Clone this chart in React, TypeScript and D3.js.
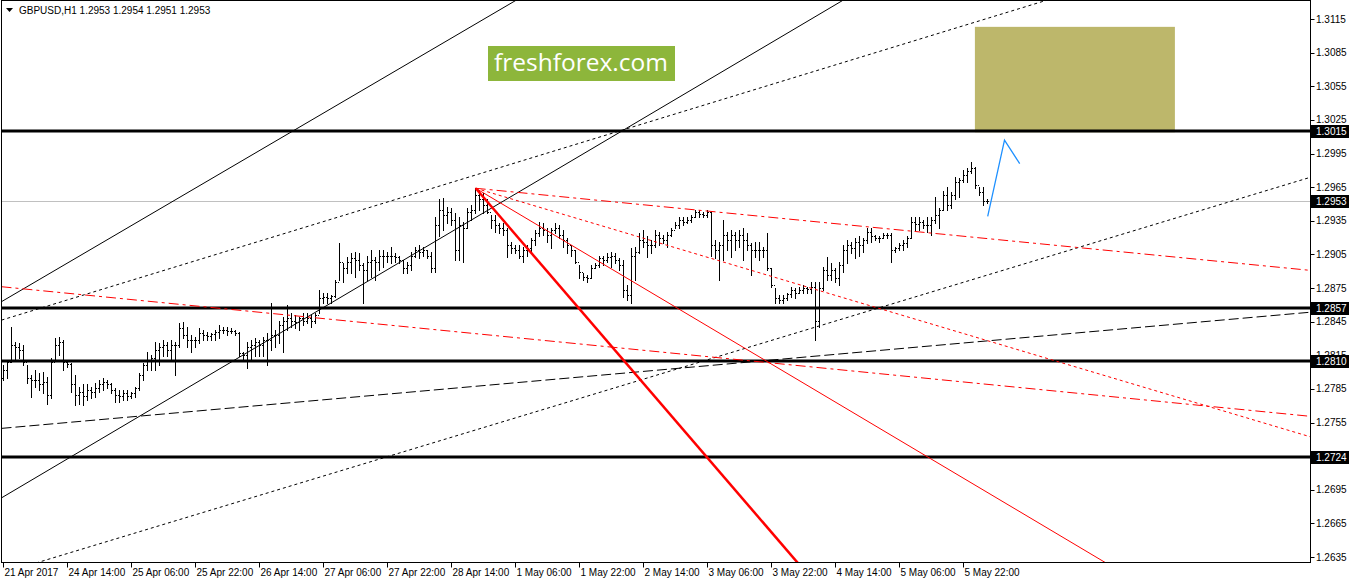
import React from 'react';
import * as d3 from 'd3';

// GBPUSD H1, one value per bar (21 Apr 23:00 .. 6 May 00:00 server time)
const HIGH = [
  1.2806, 1.2811, 1.2840, 1.2827, 1.2826, 1.2824, 1.2806, 1.2797, 1.2802, 1.2799,
  1.2800, 1.2796, 1.2813, 1.2830, 1.2831, 1.2829, 1.2811, 1.2808, 1.2797, 1.2787,
  1.2789, 1.2789, 1.2787, 1.2790, 1.2793, 1.2795, 1.2793, 1.2790, 1.2786, 1.2784,
  1.2784, 1.2784, 1.2782, 1.2787, 1.2799, 1.2808, 1.2818, 1.2815, 1.2827, 1.2826,
  1.2829, 1.2827, 1.2829, 1.2827, 1.2844, 1.2845, 1.2840, 1.2833, 1.2831, 1.2839,
  1.2838, 1.2836, 1.2835, 1.2838, 1.2842, 1.2840, 1.2840, 1.2839, 1.2838, 1.2836,
  1.2818, 1.2827, 1.2829, 1.2830, 1.2829, 1.2831, 1.2835, 1.2862, 1.2838, 1.2846,
  1.2849, 1.2860, 1.2853, 1.2851, 1.2849, 1.2853, 1.2853, 1.2851, 1.2853, 1.2873,
  1.2871, 1.2871, 1.2869, 1.2882, 1.2915, 1.2897, 1.2903, 1.2906, 1.2907, 1.2906,
  1.2897, 1.2904, 1.2909, 1.2903, 1.2909, 1.2909, 1.2907, 1.2912, 1.2906, 1.2904,
  1.2900, 1.2898, 1.2907, 1.2912, 1.2913, 1.2912, 1.2909, 1.2907, 1.2938, 1.2954,
  1.2955, 1.2947, 1.2946, 1.2942, 1.2938, 1.2934, 1.2946, 1.2949, 1.2964, 1.2962,
  1.2960, 1.2954, 1.2940, 1.2940, 1.2933, 1.2933, 1.2929, 1.2916, 1.2913, 1.2913,
  1.2912, 1.2913, 1.2920, 1.2927, 1.2934, 1.2933, 1.2929, 1.2929, 1.2933, 1.2931,
  1.2927, 1.2920, 1.2913, 1.2909, 1.2896, 1.2888, 1.2887, 1.2896, 1.2897, 1.2904,
  1.2904, 1.2906, 1.2907, 1.2906, 1.2902, 1.2900, 1.2878, 1.2911, 1.2912, 1.2924,
  1.2927, 1.2921, 1.2918, 1.2927, 1.2925, 1.2922, 1.2925, 1.2929, 1.2934, 1.2938,
  1.2938, 1.2938, 1.2940, 1.2945, 1.2945, 1.2943, 1.2945, 1.2943, 1.2918, 1.2916,
  1.2936, 1.2925, 1.2927, 1.2925, 1.2927, 1.2929, 1.2924, 1.2915, 1.2916, 1.2916,
  1.2912, 1.2924, 1.2893, 1.2875, 1.2869, 1.2869, 1.2871, 1.2876, 1.2875, 1.2876,
  1.2878, 1.2876, 1.2880, 1.2880, 1.2880, 1.2894, 1.2903, 1.2897, 1.2893, 1.2898,
  1.2913, 1.2918, 1.2916, 1.2920, 1.2921, 1.2920, 1.2929, 1.2929, 1.2922, 1.2921,
  1.2924, 1.2924, 1.2924, 1.2912, 1.2915, 1.2918, 1.2921, 1.2938, 1.2938, 1.2938,
  1.2936, 1.2938, 1.2938, 1.2956, 1.2946, 1.2962, 1.2965, 1.2961, 1.2974, 1.2973,
  1.2980, 1.2982, 1.2987, 1.2983, 1.2965, 1.2965, 1.2954,
];

const LOW = [
  1.2793, 1.2795, 1.2809, 1.2811, 1.2813, 1.2806, 1.2790, 1.2778, 1.2787, 1.2784,
  1.2781, 1.2772, 1.2777, 1.2811, 1.2815, 1.2802, 1.2805, 1.2782, 1.2771, 1.2772,
  1.2771, 1.2775, 1.2777, 1.2778, 1.2782, 1.2784, 1.2786, 1.2781, 1.2773, 1.2773,
  1.2775, 1.2775, 1.2777, 1.2778, 1.2784, 1.2793, 1.2802, 1.2802, 1.2802, 1.2806,
  1.2814, 1.2814, 1.2811, 1.2797, 1.2822, 1.2830, 1.2822, 1.2818, 1.2822, 1.2826,
  1.2829, 1.2829, 1.2829, 1.2829, 1.2830, 1.2835, 1.2833, 1.2835, 1.2833, 1.2814,
  1.2811, 1.2804, 1.2811, 1.2814, 1.2814, 1.2814, 1.2806, 1.2820, 1.2822, 1.2826,
  1.2818, 1.2838, 1.2840, 1.2839, 1.2838, 1.2842, 1.2844, 1.2840, 1.2844, 1.2853,
  1.2862, 1.2862, 1.2862, 1.2867, 1.2882, 1.2880, 1.2888, 1.2888, 1.2885, 1.2891,
  1.2862, 1.2882, 1.2885, 1.2882, 1.2891, 1.2894, 1.2898, 1.2897, 1.2898, 1.2897,
  1.2888, 1.2888, 1.2891, 1.2903, 1.2902, 1.2904, 1.2902, 1.2889, 1.2889, 1.2921,
  1.2927, 1.2933, 1.2931, 1.2900, 1.2900, 1.2898, 1.2929, 1.2936, 1.2942, 1.2945,
  1.2942, 1.2942, 1.2929, 1.2925, 1.2924, 1.2922, 1.2903, 1.2906, 1.2906, 1.2902,
  1.2898, 1.2904, 1.2907, 1.2913, 1.2921, 1.2922, 1.2916, 1.2911, 1.2924, 1.2920,
  1.2912, 1.2906, 1.2904, 1.2897, 1.2884, 1.2882, 1.2880, 1.2884, 1.2893, 1.2894,
  1.2896, 1.2898, 1.2894, 1.2897, 1.2891, 1.2867, 1.2864, 1.2862, 1.2882, 1.2906,
  1.2912, 1.2903, 1.2906, 1.2912, 1.2913, 1.2915, 1.2912, 1.2921, 1.2929, 1.2929,
  1.2931, 1.2933, 1.2934, 1.2938, 1.2938, 1.2938, 1.2938, 1.2904, 1.2902, 1.2882,
  1.2900, 1.2909, 1.2903, 1.2909, 1.2912, 1.2900, 1.2909, 1.2887, 1.2903, 1.2900,
  1.2903, 1.2891, 1.2876, 1.2862, 1.2862, 1.2862, 1.2864, 1.2867, 1.2866, 1.2871,
  1.2871, 1.2871, 1.2871, 1.2829, 1.2840, 1.2873, 1.2882, 1.2882, 1.2880, 1.2878,
  1.2889, 1.2897, 1.2906, 1.2902, 1.2904, 1.2907, 1.2915, 1.2916, 1.2918, 1.2916,
  1.2920, 1.2920, 1.2898, 1.2907, 1.2909, 1.2909, 1.2912, 1.2920, 1.2927, 1.2927,
  1.2929, 1.2925, 1.2922, 1.2933, 1.2929, 1.2945, 1.2945, 1.2946, 1.2954, 1.2956,
  1.2970, 1.2970, 1.2978, 1.2964, 1.2958, 1.2949, 1.2951,
];

const CLOSE = [
  1.2802, 1.2809, 1.2824, 1.2822, 1.2820, 1.2809, 1.2795, 1.2793, 1.2793, 1.2789,
  1.2791, 1.2780, 1.2809, 1.2824, 1.2827, 1.2809, 1.2807, 1.2789, 1.2780, 1.2782,
  1.2779, 1.2784, 1.2782, 1.2786, 1.2789, 1.2791, 1.2789, 1.2784, 1.2780, 1.2779,
  1.2781, 1.2779, 1.2781, 1.2786, 1.2797, 1.2806, 1.2811, 1.2813, 1.2820, 1.2822,
  1.2824, 1.2820, 1.2824, 1.2824, 1.2839, 1.2833, 1.2829, 1.2829, 1.2829, 1.2835,
  1.2833, 1.2832, 1.2834, 1.2836, 1.2838, 1.2838, 1.2837, 1.2837, 1.2835, 1.2817,
  1.2815, 1.2822, 1.2824, 1.2827, 1.2824, 1.2829, 1.2829, 1.2833, 1.2833, 1.2842,
  1.2846, 1.2848, 1.2846, 1.2845, 1.2848, 1.2846, 1.2848, 1.2846, 1.2851, 1.2866,
  1.2867, 1.2866, 1.2868, 1.2880, 1.2898, 1.2893, 1.2898, 1.2902, 1.2900, 1.2896,
  1.2891, 1.2898, 1.2900, 1.2898, 1.2904, 1.2904, 1.2904, 1.2904, 1.2903, 1.2900,
  1.2893, 1.2896, 1.2904, 1.2909, 1.2907, 1.2909, 1.2904, 1.2893, 1.2931, 1.2945,
  1.2940, 1.2943, 1.2936, 1.2909, 1.2931, 1.2929, 1.2943, 1.2945, 1.2958, 1.2954,
  1.2949, 1.2943, 1.2936, 1.2931, 1.2929, 1.2927, 1.2913, 1.2911, 1.2909, 1.2904,
  1.2909, 1.2911, 1.2918, 1.2924, 1.2929, 1.2927, 1.2922, 1.2927, 1.2929, 1.2922,
  1.2918, 1.2913, 1.2909, 1.2898, 1.2889, 1.2885, 1.2884, 1.2893, 1.2896, 1.2902,
  1.2900, 1.2903, 1.2904, 1.2900, 1.2896, 1.2873, 1.2869, 1.2904, 1.2907, 1.2918,
  1.2916, 1.2913, 1.2913, 1.2922, 1.2920, 1.2918, 1.2922, 1.2927, 1.2931, 1.2936,
  1.2934, 1.2936, 1.2938, 1.2943, 1.2941, 1.2940, 1.2943, 1.2913, 1.2909, 1.2913,
  1.2922, 1.2918, 1.2922, 1.2918, 1.2922, 1.2918, 1.2913, 1.2909, 1.2909, 1.2909,
  1.2909, 1.2893, 1.2878, 1.2866, 1.2864, 1.2866, 1.2870, 1.2873, 1.2871, 1.2873,
  1.2875, 1.2874, 1.2876, 1.2846, 1.2875, 1.2891, 1.2887, 1.2891, 1.2884, 1.2896,
  1.2909, 1.2913, 1.2911, 1.2916, 1.2913, 1.2918, 1.2925, 1.2921, 1.2920, 1.2920,
  1.2922, 1.2922, 1.2909, 1.2911, 1.2913, 1.2915, 1.2920, 1.2934, 1.2932, 1.2934,
  1.2931, 1.2931, 1.2936, 1.2940, 1.2945, 1.2958, 1.2949, 1.2958, 1.2970, 1.2971,
  1.2976, 1.2979, 1.2982, 1.2967, 1.2961, 1.2953, 1.2953,
];

// each bar opens where the previous one closed
const OPEN = [1.2795, ...CLOSE.slice(0, -1)];

const TIME_LABELS = [
  '21 Apr 2017', '24 Apr 14:00', '25 Apr 06:00', '25 Apr 22:00', '26 Apr 14:00',
  '27 Apr 06:00', '27 Apr 22:00', '28 Apr 14:00', '1 May 06:00', '1 May 22:00',
  '2 May 14:00', '3 May 06:00', '3 May 22:00', '4 May 14:00', '5 May 06:00', '5 May 22:00',
];
const BARS_PER_LABEL = 16;

const PRICE_TICKS = [
  1.3115, 1.3085, 1.3055, 1.3025, 1.2995, 1.2965, 1.2935, 1.2905, 1.2875,
  1.2845, 1.2815, 1.2785, 1.2755, 1.2725, 1.2695, 1.2665, 1.2635,
];

const LEVELS = [1.3015, 1.2857, 1.2810, 1.2724];
const BID = 1.2953;
const HEADER = { symbol: 'GBPUSD,H1', ohlc: [1.2953, 1.2954, 1.2951, 1.2953] };

// drawn objects: [bar index, price] anchors
const TREND_LINES = [
  { id: 'chanTop', a: [0, 1.2864], b: [100, 1.3073], ext: 'both' },
  { id: 'chanBottom', a: [0, 1.2689], b: [200, 1.3111], ext: 'both' },
  { id: 'dotUpper', a: [0, 1.2847], b: [250, 1.3120], ext: 'both' },
  { id: 'dotLower', a: [0, 1.2621], b: [300, 1.2945], ext: 'both' },
  { id: 'dashLong', a: [0, 1.2750], b: [300, 1.2845], ext: 'both' },
  { id: 'redDashLow', a: [0, 1.2876], b: [300, 1.2770], ext: 'both' },
  { id: 'redDashTop', a: [118, 1.2964], b: [326, 1.2891], ext: 'ray' },
  { id: 'redDot', a: [118, 1.2964], b: [326, 1.2743], ext: 'ray' },
  { id: 'redThin', a: [118, 1.2964], b: [275, 1.2631], ext: 'ray' },
  { id: 'redThick', a: [118, 1.2964], b: [198, 1.2632], ext: 'ray' },
];

const ZONE = { from: 242.8, to: 292.8, top: 1.3108, bottom: 1.3014 };
const FORECAST = [[246.0, 1.2939], [250.2, 1.3007], [254.0, 1.2986]];

const LINE_STYLE: Record<string, { stroke: string; width: number; dash?: string }> = {
  chanTop: { stroke: '#000', width: 1 },
  chanBottom: { stroke: '#000', width: 1 },
  dotUpper: { stroke: '#000', width: 1, dash: '3,3' },
  dotLower: { stroke: '#000', width: 1, dash: '3,3' },
  dashLong: { stroke: '#000', width: 1, dash: '10,4' },
  redDashLow: { stroke: '#ff0000', width: 1, dash: '10,4,3,4' },
  redDashTop: { stroke: '#ff0000', width: 1, dash: '10,4,3,4' },
  redDot: { stroke: '#ff0000', width: 1, dash: '3,3' },
  redThin: { stroke: '#ff0000', width: 1 },
  redThick: { stroke: '#ff0000', width: 2.5 },
};

const W = 1350;
const H = 584;
const PLOT = { left: 1.5, top: 0.5, right: 1310.5, bottom: 562.5 };
const FONT = '"Liberation Sans", Arial, sans-serif';

export default function App() {
  const x = d3.scaleLinear().domain([0, 250]).range([3.7, 1003.7]);
  const y = d3.scaleLinear().domain([1.3115, 1.2635]).range([19, 557.1]);
  const fmt = d3.format('.4f');

  const ends = (l: typeof TREND_LINES[number]) => {
    const x1 = x(l.a[0]), y1 = y(l.a[1]);
    const x2 = x(l.b[0]), y2 = y(l.b[1]);
    const m = (y2 - y1) / (x2 - x1);
    const xs = l.ext === 'both' ? PLOT.left : x1;
    const xe = PLOT.right;
    return { x1: xs, y1: y1 + m * (xs - x1), x2: xe, y2: y1 + m * (xe - x1) };
  };

  const forecastPath = d3.line<number[]>().x((d) => x(d[0])).y((d) => y(d[1]))(FORECAST) || '';

  return (
    <svg width={W} height={H} style={{ position: 'fixed', left: 0, top: 0, background: '#fff' }}
      fontFamily={FONT}>
      <defs>
        <clipPath id="plot">
          <rect x={PLOT.left} y={PLOT.top} width={PLOT.right - PLOT.left} height={PLOT.bottom - PLOT.top} />
        </clipPath>
      </defs>

      <g clipPath="url(#plot)">
        {/* target zone */}
        <rect x={x(ZONE.from)} y={y(ZONE.top)} width={x(ZONE.to) - x(ZONE.from)}
          height={y(ZONE.bottom) - y(ZONE.top)} fill="#bdb76b" />

        {/* logo */}
        <rect x={488} y={46} width={187} height={35} fill="#8db63b" />
        <text x={581} y={71} textAnchor="middle" fill="#fff" fontSize={24.5}
          fontFamily='"Open Sans", sans-serif'>freshforex.com</text>

        {/* bid line */}
        <line x1={PLOT.left} x2={PLOT.right} y1={Math.round(y(BID)) + 0.5} y2={Math.round(y(BID)) + 0.5}
          stroke="#c0c0c0" strokeWidth={1} />

        {/* OHLC bars */}
        <g fill="#000" shapeRendering="crispEdges">
          {CLOSE.map((c, i) => {
            const xc = Math.floor(x(i));
            const yh = Math.round(y(HIGH[i]));
            const yl = Math.round(y(LOW[i]));
            return (
              <g key={i}>
                <rect x={xc} y={yh} width={1} height={Math.max(1, yl - yh + 1)} />
                <rect x={xc - 1} y={Math.round(y(OPEN[i]))} width={1} height={1} />
                <rect x={xc + 1} y={Math.round(y(c))} width={1} height={1} />
              </g>
            );
          })}
        </g>

        {/* horizontal levels */}
        {LEVELS.map((p) => (
          <line key={p} x1={PLOT.left} x2={PLOT.right} y1={Math.round(y(p))} y2={Math.round(y(p))}
            stroke="#000" strokeWidth={3} />
        ))}

        {/* trend lines */}
        {TREND_LINES.map((l) => {
          const e = ends(l);
          const s = LINE_STYLE[l.id];
          return (
            <line key={l.id} x1={e.x1} y1={e.y1} x2={e.x2} y2={e.y2} stroke={s.stroke}
              strokeWidth={s.width} strokeDasharray={s.dash} />
          );
        })}

        {/* forecast */}
        <path d={forecastPath} fill="none" stroke="#1e90ff" strokeWidth={1.3} />
      </g>

      {/* frame */}
      <rect x={PLOT.left} y={PLOT.top} width={PLOT.right - PLOT.left} height={PLOT.bottom - PLOT.top}
        fill="none" stroke="#000" strokeWidth={1} shapeRendering="crispEdges" />

      {/* header */}
      <path d="M6,8 L13,8 L9.5,12 Z" fill="#000" />
      <text x={19} y={14} fontSize={10} fill="#000">
        {`${HEADER.symbol}  ${HEADER.ohlc.map(fmt).join(' ')}`}
      </text>

      {/* price axis */}
      <g fontSize={10} fill="#000">
        {PRICE_TICKS.map((p) => (
          <g key={p}>
            <line x1={PLOT.right} x2={PLOT.right + 4} y1={Math.round(y(p)) + 0.5} y2={Math.round(y(p)) + 0.5}
              stroke="#000" />
            <text x={1316} y={y(p) + 3.5}>{fmt(p)}</text>
          </g>
        ))}
        {[...LEVELS, BID].map((p) => (
          <g key={'b' + p}>
            <rect x={1311} y={Math.round(y(p)) - 6} width={38} height={13} fill="#000" />
            <text x={1316} y={y(p) + 4} fill="#fff">{fmt(p)}</text>
          </g>
        ))}
      </g>

      {/* time axis */}
      <g fontSize={10} fill="#000">
        {TIME_LABELS.map((t, k) => {
          const tx = Math.floor(x(k * BARS_PER_LABEL)) + 0.5;
          return (
            <g key={t}>
              <line x1={tx} x2={tx} y1={PLOT.bottom} y2={PLOT.bottom + 5} stroke="#000" />
              <text x={tx + 1} y={576}>{t}</text>
            </g>
          );
        })}
      </g>
    </svg>
  );
}
